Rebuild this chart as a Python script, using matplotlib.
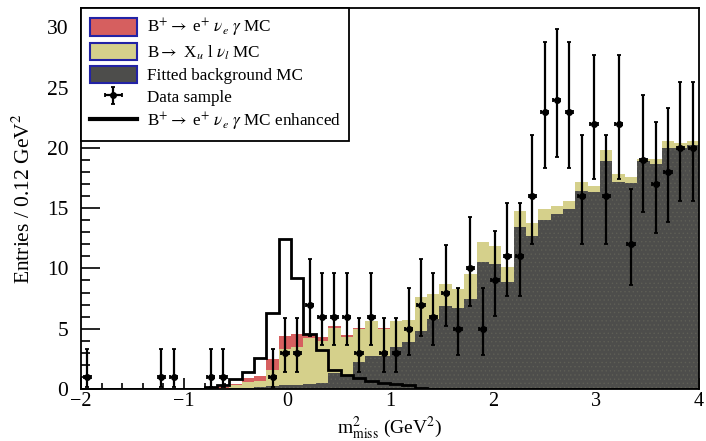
import numpy as np
import matplotlib
matplotlib.use("Agg")
import matplotlib.pyplot as plt
from matplotlib.patches import Patch
from matplotlib.lines import Line2D
from matplotlib.ticker import MultipleLocator

# ---------------- data ----------------
# 50 bins of 0.12 GeV^2 from -2 to 4
bin_edges = np.linspace(-2.0, 4.0, 51)

bkg_mc = [0.0] * 12 + [0.05, 0.1, 0.15, 0.25, 0.3, 0.35, 0.4, 0.5, 1.35, 1.1,
                      2.2, 2.7, 2.7, 3.5, 3.9, 4.8, 5.8, 6.9, 6.7, 7.5,
                      10.5, 10.4, 8.9, 13.4, 12.7, 14.0, 14.5, 14.9, 16.4, 16.3,
                      18.9, 17.2, 17.1, 18.9, 18.7, 20.0, 20.0, 20.2]
xulnu_mc = [0.0] * 10 + [0.05, 0.1,
                         0.25, 0.45, 0.55, 1.35, 3.0, 3.15, 3.8, 3.5, 3.75, 3.2,
                         2.8, 2.9, 2.3, 2.1, 1.8, 2.8, 2.1, 1.8, 1.6, 2.05,
                         1.7, 1.5, 1.2, 1.4, 1.1, 0.9, 0.7, 0.7, 0.8, 0.5,
                         0.9, 0.6, 0.5, 0.2, 0.4, 0.6, 0.4, 0.4]
signal_mc = [0.0] * 11 + [0.05, 0.15, 0.4, 0.4, 0.85, 1.1, 1.1, 0.4, 0.3, 0.15,
                          0.15, 0.08, 0.05, 0.03] + [0.0] * 25
signal_enhanced = [0.0] * 10 + [0.15, 0.3, 0.8, 1.4, 2.55, 6.3, 12.4, 9.2, 4.6, 3.2,
                                1.6, 1.15, 0.9, 0.65, 0.5, 0.45, 0.3, 0.1] + [0.0] * 22

data_x = [-1.94, -1.22, -1.10, -0.74, -0.62, -0.14, -0.02, 0.10, 0.22, 0.34,
          0.46, 0.58, 0.70, 0.82, 0.94, 1.06, 1.18, 1.30, 1.42, 1.54,
          1.66, 1.78, 1.90, 2.02, 2.14, 2.26, 2.38, 2.50, 2.62, 2.74,
          2.86, 2.98, 3.10, 3.22, 3.34, 3.46, 3.58, 3.70, 3.82, 3.94]
data_counts = [1, 1, 1, 1, 1, 1, 3, 3, 7, 6,
               6, 6, 3, 6, 3, 3, 5, 7, 6, 8,
               5, 10, 5, 9, 11, 11, 16, 23, 24, 23,
               16, 22, 16, 22, 12, 19, 17, 18, 20, 20]
data_err_lo = [0.83, 0.83, 0.83, 0.83, 0.83, 0.83, 1.63, 1.63, 2.58, 2.38,
               2.38, 2.38, 1.63, 2.38, 1.63, 1.63, 2.16, 2.58, 2.38, 2.77,
               2.16, 3.11, 2.16, 2.94, 3.27, 3.27, 3.95, 4.67, 4.76, 4.67,
               3.95, 4.58, 3.95, 4.58, 3.41, 4.29, 4.07, 4.18, 4.39, 4.39]
data_err_hi = [2.30, 2.30, 2.30, 2.30, 2.30, 2.30, 2.92, 2.92, 3.77, 3.58,
               3.58, 3.58, 2.92, 3.58, 2.92, 2.92, 3.38, 3.77, 3.58, 3.95,
               3.38, 4.27, 3.38, 4.11, 4.42, 4.42, 5.06, 5.79, 5.88, 5.79,
               5.06, 5.70, 5.06, 5.70, 4.56, 5.39, 5.17, 5.28, 5.50, 5.50]

legend_labels = [
    r"B$^{+}\rightarrow$ e$^{+}$ $\nu_{e}$ $\gamma$ MC",
    r"B$\rightarrow$ X$_{u}$ l $\nu_{l}$ MC",
    "Fitted background MC",
    "Data sample",
    r"B$^{+}\rightarrow$ e$^{+}$ $\nu_{e}$ $\gamma$ MC enhanced",
]

# ---------------- style ----------------
plt.rcParams["font.family"] = ["Liberation Serif", "DejaVu Serif"]
plt.rcParams["mathtext.fontset"] = "stix"
plt.rcParams["hatch.linewidth"] = 0.5

RED = "#d65f5f"
YELLOW = "#d5d08b"
DARK = "#4d4d4b"
BLUE_EDGE = "#2323a5"

fig = plt.figure(figsize=(7.06, 4.41), dpi=100)
ax = fig.add_axes([81 / 706, 1 - 389 / 441, 618 / 706, 381 / 441])

bkg = np.array(bkg_mc)
xs = np.array(xulnu_mc)
sig = np.array(signal_mc)

ax.stairs(bkg + xs + sig, bin_edges, fill=True, facecolor=RED, edgecolor="none", lw=0, zorder=1)
ax.stairs(bkg + xs, bin_edges, fill=True, facecolor=YELLOW, edgecolor="none", lw=0, zorder=2)
ax.stairs(bkg, bin_edges, fill=True, facecolor=DARK, edgecolor="#5f5f56", lw=0,
          hatch="....", zorder=3)
ax.stairs(signal_enhanced, bin_edges, color="black", lw=2.0, zorder=4)

eb = ax.errorbar(data_x, data_counts, yerr=[data_err_lo, data_err_hi], xerr=0.035,
                 fmt="o", color="black", ms=4.0, elinewidth=1.6, capsize=1.6,
                 capthick=1.3, zorder=6)

ax.set_xlim(-2, 4)
ax.set_ylim(0, 31.6)

ax.xaxis.set_major_locator(MultipleLocator(1))
ax.xaxis.set_minor_locator(MultipleLocator(0.2))
ax.yaxis.set_major_locator(MultipleLocator(5))
ax.yaxis.set_minor_locator(MultipleLocator(1))
ax.tick_params(axis="both", which="both", direction="in", top=False, right=False,
               width=1.2)
ax.tick_params(axis="y", which="major", length=13.5, pad=9, labelsize=15.5)
ax.tick_params(axis="y", which="minor", length=6.5)
ax.tick_params(axis="x", which="major", length=8, pad=2.5, labelsize=14.5)
ax.tick_params(axis="x", which="minor", length=4.3)
for s in ax.spines.values():
    s.set_linewidth(1.3)
    s.set_zorder(10)

ax.set_xlabel(r"m$^{2}_{\mathrm{miss}}$ (GeV$^{2}$)", fontsize=14)
ax.xaxis.set_label_coords(0.5, -0.068)
ax.set_ylabel(r"Entries / 0.12 GeV$^{2}$", fontsize=15.5)
ax.yaxis.set_label_coords(-0.075, 0.5)

handles = [
    Patch(facecolor=RED, edgecolor=BLUE_EDGE, lw=1.5),
    Patch(facecolor=YELLOW, edgecolor=BLUE_EDGE, lw=1.5),
    Patch(facecolor=DARK, edgecolor=BLUE_EDGE, lw=1.5),
    eb,
    Line2D([], [], color="black", lw=3.0),
]
leg = ax.legend(handles, legend_labels, loc="upper left", bbox_to_anchor=(0, 1),
                borderaxespad=0, frameon=True, fancybox=False, framealpha=1,
                edgecolor="black", fontsize=12.3, handlelength=2.8,
                handleheight=1.2, labelspacing=0.22, handletextpad=0.55,
                borderpad=0.5)
leg.get_frame().set_linewidth(1.3)
leg.set_zorder(12)

fig.savefig("out.png", dpi=100)
